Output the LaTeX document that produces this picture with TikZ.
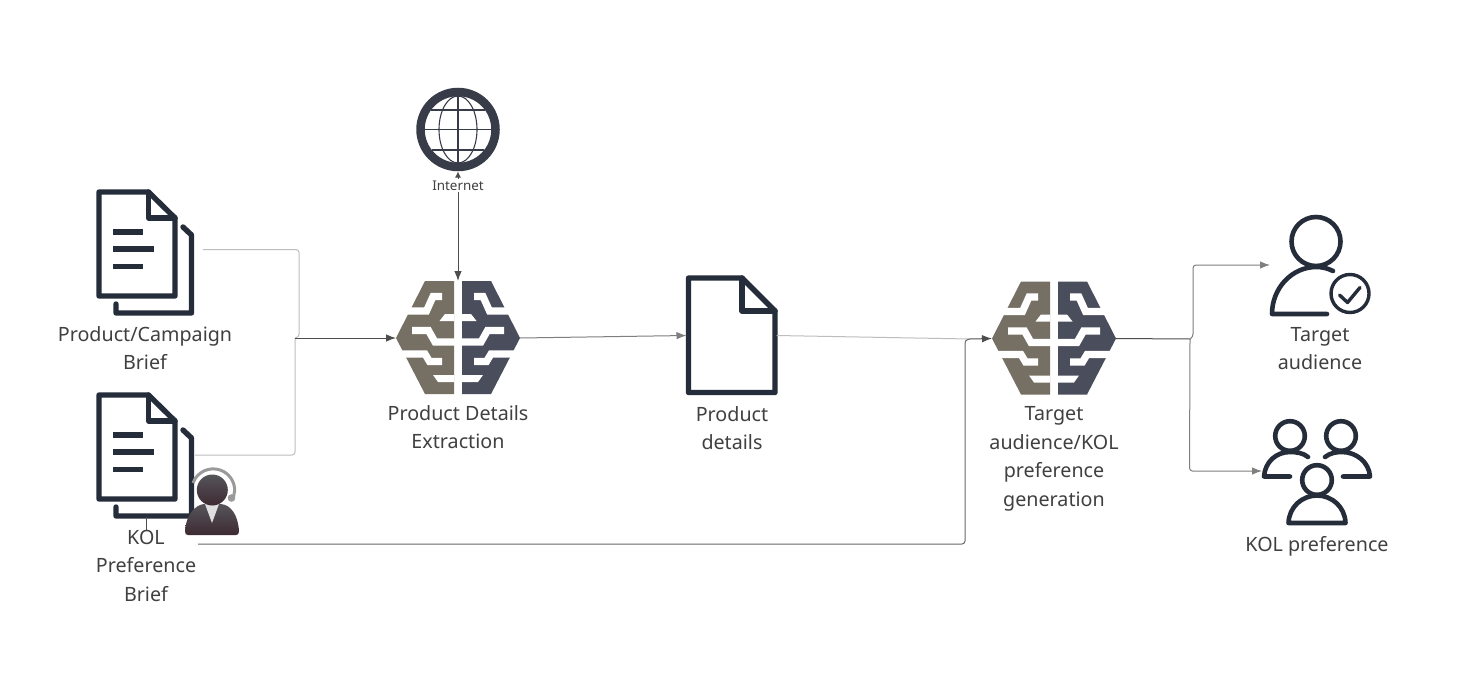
\documentclass[tikz,border=0pt]{standalone}
\usepackage{fontspec}
\setmainfont{Noto Sans}
\usetikzlibrary{arrows.meta,calc}
\definecolor{ink}{HTML}{252D3A}
\definecolor{txt}{HTML}{404040}
\definecolor{brainL}{HTML}{767064}
\definecolor{brainR}{HTML}{4A4D5B}
\definecolor{globeink}{HTML}{383C48}
\definecolor{conDark}{HTML}{4D4D4D}
\definecolor{conMid}{HTML}{7F7F7F}
\definecolor{conLight}{HTML}{BDBDBD}
\definecolor{agentTop}{HTML}{55555A}
\definecolor{agentBot}{HTML}{3E2A32}
\definecolor{headset}{HTML}{9A9A9A}
\newcommand{\brainhalf}[1]{%
  \fill[#1] (-4,-57)--(-33,-57)--(-62,0)--(-33,56)--(-4,56)--cycle;
  \draw[white,line width=7.2pt,line join=miter]
    (-16,-41.5)--(-25,-41.5)--(-31.5,-27)--(-68,-27);
  \fill[white] (-4,-24)--(-13,-24)--(-18.5,-17)--(-4,-17)--cycle;
  \draw[white,line width=7.2pt,line join=miter]
    (-46,-7.5)--(-29.5,-7.5)--(-23,4)--(-3,4);
  \draw[white,line width=7.2pt,line join=miter]
    (-72,16)--(-33,16)--(-28.5,23.5)--(-16,23.5);
  \fill[white] (-4,37)--(-25,37)--(-20,44)--(-4,44)--cycle;
}
\newcommand{\brainicon}[2]{%
  \begin{scope}[shift={(#1,#2)}]\brainhalf{brainL}\end{scope}
  \begin{scope}[shift={(#1,#2)},xscale=-1]\brainhalf{brainR}\end{scope}
}
\tikzset{
  x=1pt,y=-1pt,
  icon/.style={inner sep=0pt,outer sep=0pt,minimum width=#1},
  label/.style={text=txt,font=\fontsize{19.7}{28.5}\selectfont,align=center,inner sep=0pt},
  smalllabel/.style={text=txt,font=\fontsize{13.4}{16}\selectfont,inner sep=1pt,fill=white},
  iconline/.style={draw=ink,line width=5.4pt,line join=round,line cap=round},
  thinicon/.style={draw=ink,line width=4.6pt,line join=round,line cap=round},
  globeline/.style={draw=globeink,line width=1.1pt},
  conn/.style={line width=1pt,rounded corners=3pt},
  tip/.style={-{Latex[length=10pt,width=7.5pt]}},
  pics/pagestack/.style={code={
    \draw[iconline] (0,0)--(49.5,0)--(76,26)--(76,104)--(0,104)--cycle;
    \draw[iconline] (49.5,0)--(49.5,26)--(76,26);
    \draw[iconline,line cap=butt] (14,40)--(44,40);
    \draw[iconline,line cap=butt] (14,57)--(55,57);
    \draw[iconline,line cap=butt] (14,74.5)--(44,74.5);
    \draw[iconline] (84,35)--(92.5,43)--(92.5,121)--(17,121)--(17,112);
  }}
}
\begin{document}
\begin{tikzpicture}
\useasboundingbox (0,0) rectangle (1458,680);
\fill[white] (0,0) rectangle (1458,680);

% source documents
\pic at (99,192) {pagestack};
\pic at (99,395) {pagestack};
\coordinate (docA) at (203,249.5);
\coordinate (docB) at (195,455);
\coordinate (docBstem) at (146,517);
\coordinate (docBout) at (198,544);
\node[label] (briefA) at (145,348) {Product/Campaign\\Brief};
\node[label] (briefB) at (146,565.5) {KOL\\Preference\\Brief};

% agent
\draw[headset,line width=3pt] (193,483) arc[start angle=200,end angle=360,radius=21.5] -- (233.5,497);
\fill[headset] (231.5,498) circle (3.8);
\shade[top color=agentTop,bottom color=agentBot]
  (185,531) .. controls (186,515) and (195,505) .. (204,504) -- (221,504)
  .. controls (231,505) and (238,515) .. (239,531)
  .. controls (239,534) and (238,535) .. (236,535) -- (188,535) .. controls (186,535) and (185,534) .. (185,531) -- cycle;
\fill[gray!25] (205,504)--(219,504)--(212,523)--cycle;
\shade[top color=agentTop,bottom color=agentBot] (212.3,490) circle (15.5);

% internet
\node[icon=84pt,minimum height=84pt] (globe) at (458,129.5) {};
\draw[draw=globeink,line width=8.5pt] (458,129.5) circle (37.5);
\draw[globeline] (458,129.5) ellipse (19 and 33.5);
\draw[globeline] (458,96)--(458,163);
\draw[globeline] (425,129.5)--(491,129.5);
\draw[globeline] (431,110)--(485,110);
\draw[globeline] (432,150)--(484,150);

% brains
\node[icon=124pt,minimum height=114pt] (brainA) at (458,338) {};
\brainicon{458}{338}
\node[label] (brainAtxt) at (458,427) {Product Details\\Extraction};
\node[icon=124pt,minimum height=114pt] (brainB) at (1054,338.5) {};
\brainicon{1054}{338.5}
\node[label] (brainBtxt) at (1054,459) {Target\\audience/KOL\\preference\\generation};

% product details
\node[icon=90pt,minimum height=118pt] (page) at (731.5,335.5) {};
\draw[iconline] (688.5,278)--(742,278)--(775,311)--(775,392.5)--(688.5,392.5)--cycle;
\draw[iconline] (742,278)--(742,311)--(775,311);
\node[label] (pagetxt) at (732,428) {Product\\details};

% single person with check
\node[icon=100pt,minimum height=100pt] (target) at (1320,265) {};
\draw[thinicon] (1316,241.5) circle (24.5);
\draw[thinicon] (1333,271) .. controls (1327,268) and (1322,267) .. (1316,267)
  .. controls (1292,267) and (1272,288) .. (1272,314) -- (1327,314);
\draw[draw=ink,line width=3.4pt] (1350,293.5) circle (19);
\draw[draw=ink,line width=3.4pt,line join=round,line cap=round] (1339.5,295)--(1347.5,302.5)--(1360,287.5);
\node[label] (targettxt) at (1320,348.5) {Target\\audience};

% group
\node[icon=110pt,minimum height=110pt] (kol) at (1317,471) {};
\draw[thinicon] (1290,436) circle (14.8);
\draw[thinicon] (1341,436) circle (14.8);
\draw[thinicon] (1317,480) circle (14.8);
\draw[thinicon] (1290,476.5) -- (1264,476.5) .. controls (1265,462) and (1276,452) .. (1290,452)
  .. controls (1297,452) and (1303,453) .. (1308,457);
\draw[thinicon] (1343,476.5) -- (1370,476.5) .. controls (1369,462) and (1356,452) .. (1342,452)
  .. controls (1336,452) and (1330,453) .. (1325,457);
\draw[thinicon] (1288.5,523) .. controls (1289,507) and (1302,495.5) .. (1317,495.5)
  .. controls (1332,495.5) and (1345,507) .. (1345.5,523) -- cycle;
\node[label] (koltxt) at (1317,546) {KOL preference};

% connectors
\coordinate (merge) at (295,338);
\coordinate (joinB) at (970,339);
\coordinate (split) at (1190,339);
\draw[conn,draw=conLight] (docA) -- (299,249.5) -- (299,337) -- (merge);
\draw[conn,draw=conLight] (docB) -- (295,455) -- (merge);
\draw[conn,draw=conDark,tip] (merge) -- (brainA.west);
\draw[conn,draw=conDark] (docBstem) -- (briefB.north -| docBstem);
\node[smalllabel] (internet) at (458,185.5) {Internet};
\draw[conn,draw=conDark,{Latex[length=6pt,width=6pt]}-] (globe.south) -- (internet.north);
\draw[conn,draw=conDark,tip] (internet.south) -- (brainA.north);
\draw[conn,draw=conMid,tip] (brainA.east) -- (page.west);
\draw[conn,draw=conLight] (page.east) -- (joinB);
\draw[conn,draw=conDark!85!white] (docBout) -- (965,544) -- (965,340) -- (joinB);
\draw[conn,draw=conDark,tip] (joinB) -- (brainB.west);
\draw[conn,draw=conDark] (brainB.east) -- (split);
\draw[conn,draw=conMid,tip] (split) -- (1193,337) -- (1193,265) -- (target.west);
\draw[conn,draw=conMid,tip] (split) -- (1189.5,471) -- (kol.west);
\end{tikzpicture}
\end{document}
